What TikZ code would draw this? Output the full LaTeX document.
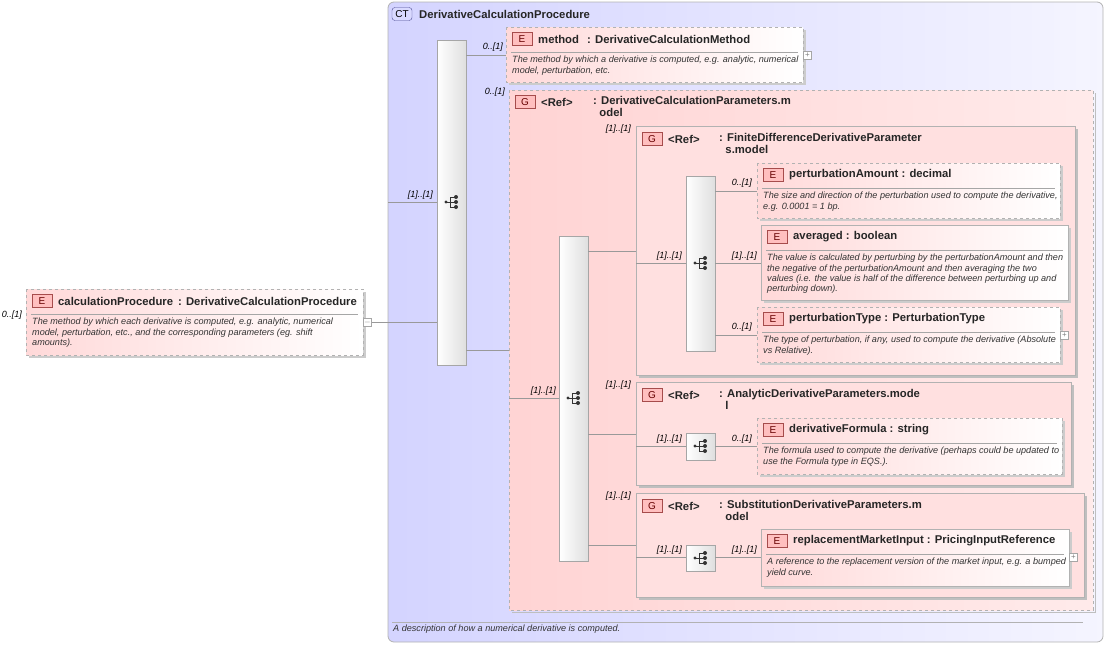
\documentclass[tikz,border=0pt]{standalone}
\usepackage{fontspec}
\setmainfont{Liberation Sans}
\begin{document}
\begin{tikzpicture}[x=1pt,y=-1pt,
  line/.style={draw=gray!80,line width=0.6pt},
  lab/.style={font=\fontsize{9}{9}\selectfont\itshape,anchor=south east,inner sep=1pt},
  ttl/.style={font=\fontsize{11.3}{12.5}\selectfont\bfseries,anchor=west,inner sep=0pt,text=black!85,align=left},
  dsc/.style={font=\fontsize{9.1}{10.3}\selectfont\itshape,anchor=north west,inner sep=0pt,align=left,text=black!80},
  badge/.style={draw=red!50!black!70,fill=red!25,font=\fontsize{10}{10}\selectfont,inner sep=0pt,minimum width=20pt,minimum height=13pt,text=red!40!black},
  box/.style={draw=gray!60,line width=0.8pt,left color=red!15,right color=white},
  shad/.style={fill=gray!40,draw=none},
  bar/.style={draw=gray!70,left color=white,right color=gray!25,line width=0.6pt},
  pls/.style={draw=gray!70,fill=white,minimum size=8pt,inner sep=0pt,font=\fontsize{8}{8}\selectfont,text=gray}]
\newcommand{\seqicon}[2]{%
  \fill[black!80] (#1-6,#2) circle (1.6);
  \draw[black!80,line width=0.8pt] (#1-6,#2)--(#1-2,#2) (#1-2,#2-5)--(#1-2,#2+5) (#1-2,#2-5)--(#1+4,#2-5) (#1-2,#2)--(#1+4,#2) (#1-2,#2+5)--(#1+4,#2+5);
  \fill[black!80] (#1+4,#2-5) circle (2) (#1+4,#2) circle (2) (#1+4,#2+5) circle (2);}
\newcommand{\elemhead}[6]{%
  \node[badge] at (#1+16,#2+12) {E};
  \node[ttl] at (#1+32,#2+12) {#4};
  \draw[gray!70] (#1+5,#2+25)--(#3-5,#2+25);
  \node[dsc] at (#1+6,#2+29) {#5};}
\useasboundingbox (0,0) rectangle (1107,645);
\path[draw=gray!60,rounded corners=6pt,left color=blue!17,right color=blue!4,line width=0.8pt] (388,2) rectangle (1103,642);
\node[draw=blue!40!black!70,fill=blue!15,rounded corners=3pt,font=\fontsize{10}{10}\selectfont,inner sep=0pt,minimum width=20pt,minimum height=13pt] (ct) at (402,14) {CT};
\node[ttl] (ctt) at (419,14) {DerivativeCalculationProcedure};
\draw[gray!60] (392,622)--(1083,622);
\node[dsc] (ctd) at (393,625) {A description of how a numerical derivative is computed.};
% left element
\fill[shad] (29,292) rectangle (366,358);
\path[box,dashed] (26,289) rectangle (363,355);
\elemhead{26}{289}{363}{calculationProcedure\ \,: DerivativeCalculationProcedure}{The method by which each derivative is computed, e.g. analytic, numerical\\model, perturbation, etc., and the corresponding parameters (eg. shift\\amounts).}{}
\node[pls] (m1) at (367.5,322) {$-$};
\node[lab] at (23,321) {0..[1]};
\draw[line] (m1.east)--(437,322);
% bar1
\path[bar] (437,40) rectangle (466,365); \seqicon{452}{202}
\draw[line] (388,202)--(437,202); \node[lab] at (434,201) {[1]..[1]};
% method
\fill[shad] (509,30) rectangle (806,85);
\path[box,dashed] (506,27) rectangle (803,82);
\elemhead{506}{27}{803}{method\ \ \,: DerivativeCalculationMethod}{The method by which a derivative is computed, e.g. analytic, numerical\\model, perturbation, etc.}{}
\node[pls] at (807.5,55) {+};
\draw[line] (466,55)--(506,55); \node[lab] at (504,53) {0..[1]};
% group
\path[draw=gray!60,dashed,line width=0.8pt,left color=red!17,right color=red!8] (509,90) rectangle (1093,610);
\draw[gray!50,line width=1pt] (1095,93)--(1095,612)--(512,612);
\node[lab] at (506,98) {0..[1]};
\draw[line] (466,350)--(509,350);
\node[badge] at (525,102) {G};
\node[ttl] at (541,102) {<Ref>};
\node[ttl,anchor=north west] at (593,96) {: DerivativeCalculationParameters.m\\\ \ odel};
% bar2
\path[bar] (559,236) rectangle (588,561); \seqicon{574}{398}
\draw[line] (509,398)--(559,398); \node[lab] at (557,397) {[1]..[1]};
\draw[line] (588,251)--(636,251) (588,434)--(636,434) (588,545)--(636,545);
\newcommand{\grp}[5]{%
  \draw[gray!50,line width=1.2pt] (#3+2,#2+3)--(#3+2,#4+2)--(#1+3,#4+2);
  \path[draw=gray!60,line width=0.8pt,fill=red!12] (#1,#2) rectangle (#3,#4);
  \node[lab] at (632,#2+9) {[1]..[1]};
  \node[badge] at (#1+16,#2+13) {G};
  \node[ttl] at (#1+32,#2+13) {<Ref>};
  \node[ttl,anchor=north west] at (#1+83,#2+7) {#5};}
\grp{636}{126}{1075}{375}{: FiniteDifferenceDerivativeParameter\\\ \ s.model}
\draw[line] (636,263)--(686,263); \node[lab] at (683,262) {[1]..[1]};
\path[bar] (686,176) rectangle (715,351); \seqicon{701}{263}
\fill[shad] (760,166) rectangle (1063,221);
\path[box,dashed] (757,163) rectangle (1060,218);
\elemhead{757}{163}{1060}{perturbationAmount\ : decimal}{The size and direction of the perturbation used to compute the derivative,\\e.g. 0.0001 = 1 bp.}{}
\draw[line] (715,191)--(757,191); \node[lab] at (753,189) {0..[1]};
\fill[shad] (764,228) rectangle (1071,303);
\path[box] (761,225) rectangle (1068,300);
\elemhead{761}{225}{1068}{averaged\ : boolean}{The value is calculated by perturbing by the perturbationAmount and then\\the negative of the perturbationAmount and then averaging the two\\values (i.e. the value is half of the difference between perturbing up and\\perturbing down).}{}
\draw[line] (715,263)--(761,263); \node[lab] at (758,262) {[1]..[1]};
\fill[shad] (760,310) rectangle (1063,365);
\path[box,dashed] (757,307) rectangle (1060,362);
\elemhead{757}{307}{1060}{perturbationType\ : PerturbationType}{The type of perturbation, if any, used to compute the derivative (Absolute\\vs Relative).}{}
\node[pls] at (1064.5,335) {+};
\draw[line] (715,335)--(757,335); \node[lab] at (753,333) {0..[1]};
% analytic
\grp{636}{382}{1071}{485}{: AnalyticDerivativeParameters.mode\\\ \ l}
\draw[line] (636,446)--(686,446); \node[lab] at (683,445) {[1]..[1]};
\path[bar] (686,433) rectangle (715,460); \seqicon{701}{446}
\fill[shad] (760,421) rectangle (1065,477);
\path[box,dashed] (757,418) rectangle (1062,474);
\elemhead{757}{418}{1062}{derivativeFormula\ : string}{The formula used to compute the derivative (perhaps could be updated to\\use the Formula type in EQS.).}{}
\draw[line] (715,446)--(757,446); \node[lab] at (753,445) {0..[1]};
% substitution
\grp{636}{493}{1084}{597}{: SubstitutionDerivativeParameters.m\\\ \ odel}
\draw[line] (636,557)--(686,557); \node[lab] at (683,556) {[1]..[1]};
\path[bar] (686,545) rectangle (715,571); \seqicon{701}{558}
\fill[shad] (764,532) rectangle (1072,589);
\path[box] (761,529) rectangle (1069,586);
\elemhead{761}{529}{1069}{replacementMarketInput\ : PricingInputReference}{A reference to the replacement version of the market input, e.g. a bumped\\yield curve.}{}
\node[pls] at (1073.5,557) {+};
\draw[line] (715,557)--(761,557); \node[lab] at (758,556) {[1]..[1]};
\end{tikzpicture}
\end{document}
